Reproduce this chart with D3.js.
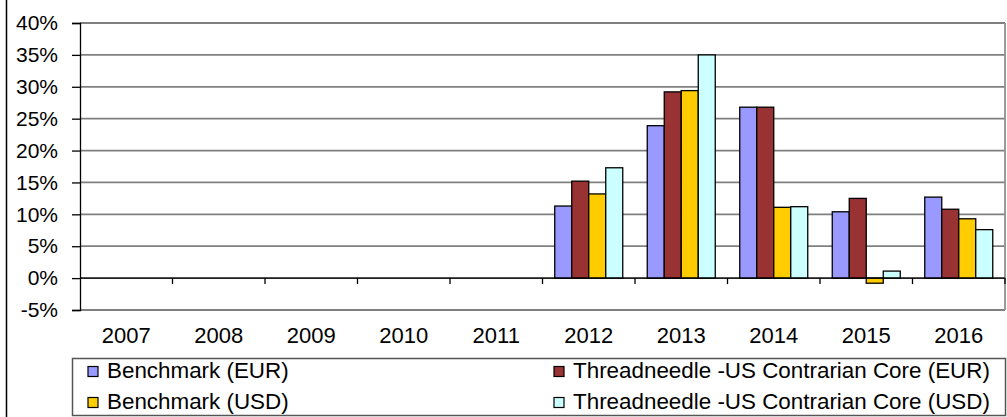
<!DOCTYPE html>
<html>
<head>
<meta charset="utf-8">
<script src="https://cdn.jsdelivr.net/npm/d3@7"></script>
<style>
  body { margin: 0; background: #fff; }
  svg { display: block; font-family: "Liberation Sans", Arial, sans-serif; }
</style>
</head>
<body>
<svg id="chart" width="1007" height="417"></svg>
<script>
"use strict";

// data (percent)
const years = ["2007", "2008", "2009", "2010", "2011", "2012", "2013", "2014", "2015", "2016"];
const series_names = [
  "Benchmark (EUR)",
  "Threadneedle -US Contrarian Core (EUR)",
  "Benchmark (USD)",
  "Threadneedle -US Contrarian Core (USD)"
];
const series_colors = ["#9999ff", "#993333", "#ffcc00", "#ccffff"];
const bench_eur = [null, null, null, null, null, 11.3, 23.9, 26.8, 10.4, 12.7];
const fund_eur = [null, null, null, null, null, 15.2, 29.2, 26.8, 12.5, 10.8];
const bench_usd = [null, null, null, null, null, 13.2, 29.4, 11.1, -0.8, 9.3];
const fund_usd = [null, null, null, null, null, 17.3, 35.0, 11.2, 1.1, 7.6];
const y_ticks = [-5, 0, 5, 10, 15, 20, 25, 30, 35, 40];

const all_values = [bench_eur, fund_eur, bench_usd, fund_usd];

let chart_svg = d3.select("#chart");

let chart_left = 80,
  chart_right = 1005,
  chart_top = 23,
  chart_bottom = 310;

let y_scale = d3.scaleLinear().domain([-5, 40]).range([chart_bottom, chart_top]);
let x_scale = d3.scaleBand().domain(years).range([chart_left, chart_right]).padding(0);
let bar_group_w = 68;
let x_inner = d3.scaleBand().domain(d3.range(series_names.length))
  .range([(x_scale.bandwidth() - bar_group_w) / 2, (x_scale.bandwidth() + bar_group_w) / 2]);

// outer chart border (only left edge visible)
chart_svg.append("line")
  .attr("x1", 6.5).attr("x2", 6.5).attr("y1", 0).attr("y2", 417)
  .attr("stroke", "#000").attr("stroke-width", 1.5);

// gridlines
chart_svg.append("g").selectAll("line")
  .data(y_ticks)
  .enter().append("line")
  .attr("x1", chart_left).attr("x2", chart_right)
  .attr("y1", d => y_scale(d)).attr("y2", d => y_scale(d))
  .attr("stroke", "#808080").attr("stroke-width", 1.8);

// right border of plot area
chart_svg.append("line")
  .attr("x1", chart_right).attr("x2", chart_right)
  .attr("y1", chart_top).attr("y2", chart_bottom)
  .attr("stroke", "#909090").attr("stroke-width", 1.8);

// bars
let bar_rows = [];
years.forEach((yr, i) => {
  all_values.forEach((vals, s) => {
    if (vals[i] != null) bar_rows.push({ year: yr, s: s, v: vals[i] });
  });
});

chart_svg.append("g").selectAll("rect")
  .data(bar_rows)
  .enter().append("rect")
  .attr("x", d => x_scale(d.year) + x_inner(d.s))
  .attr("y", d => y_scale(Math.max(0, d.v)))
  .attr("width", x_inner.bandwidth())
  .attr("height", d => Math.abs(y_scale(d.v) - y_scale(0)))
  .attr("fill", d => series_colors[d.s])
  .attr("stroke", "#000")
  .attr("stroke-width", 1.3);

// left value axis
let y_axis = chart_svg.append("g")
  .attr("transform", "translate(" + chart_left + ",0)")
  .call(d3.axisLeft(y_scale).tickValues(y_ticks).tickSize(8).tickPadding(14).tickFormat(d => d + "%"));
y_axis.select(".domain").attr("stroke", "#000").attr("stroke-width", 1.3);
y_axis.selectAll("line").attr("stroke", "#000").attr("stroke-width", 1.3);
y_axis.selectAll("text")
  .attr("font-family", "Liberation Sans, Arial, sans-serif")
  .attr("font-size", 21).attr("fill", "#000");

// zero line and category ticks
chart_svg.append("line")
  .attr("x1", chart_left).attr("x2", chart_right)
  .attr("y1", y_scale(0)).attr("y2", y_scale(0))
  .attr("stroke", "#000").attr("stroke-width", 1.3);

chart_svg.append("g").selectAll("line")
  .data(years.map(y => x_scale(y) + x_scale.bandwidth()))
  .enter().append("line")
  .attr("x1", d => d).attr("x2", d => d)
  .attr("y1", y_scale(0)).attr("y2", y_scale(0) + 6)
  .attr("stroke", "#000").attr("stroke-width", 1.3);

// category labels (low position)
chart_svg.append("g").selectAll("text")
  .data(years)
  .enter().append("text")
  .attr("x", d => x_scale(d) + x_scale.bandwidth() / 2)
  .attr("y", 337)
  .attr("dominant-baseline", "middle")
  .attr("text-anchor", "middle")
  .attr("font-size", 22)
  .attr("fill", "#000")
  .text(d => d);

// legend
chart_svg.append("rect")
  .attr("x", 72.5).attr("y", 358.5)
  .attr("width", 933).attr("height", 57)
  .attr("fill", "#fff")
  .attr("stroke", "#555").attr("stroke-width", 1.5);

let leg_pos = [[88, 372], [554, 372], [88, 403], [554, 403]];
let legend = chart_svg.append("g").selectAll("g")
  .data(series_names)
  .enter().append("g")
  .attr("transform", (d, i) => "translate(" + leg_pos[i][0] + "," + leg_pos[i][1] + ")");

legend.append("rect")
  .attr("x", 0).attr("y", -5.5)
  .attr("width", 10).attr("height", 10)
  .attr("fill", (d, i) => series_colors[i])
  .attr("stroke", "#000").attr("stroke-width", 1.2);

legend.append("text")
  .attr("x", 19)
  .attr("y", 0)
  .attr("dominant-baseline", "middle")
  .attr("font-size", 22.4)
  .attr("fill", "#000")
  .text(d => d);
</script>
</body>
</html>
